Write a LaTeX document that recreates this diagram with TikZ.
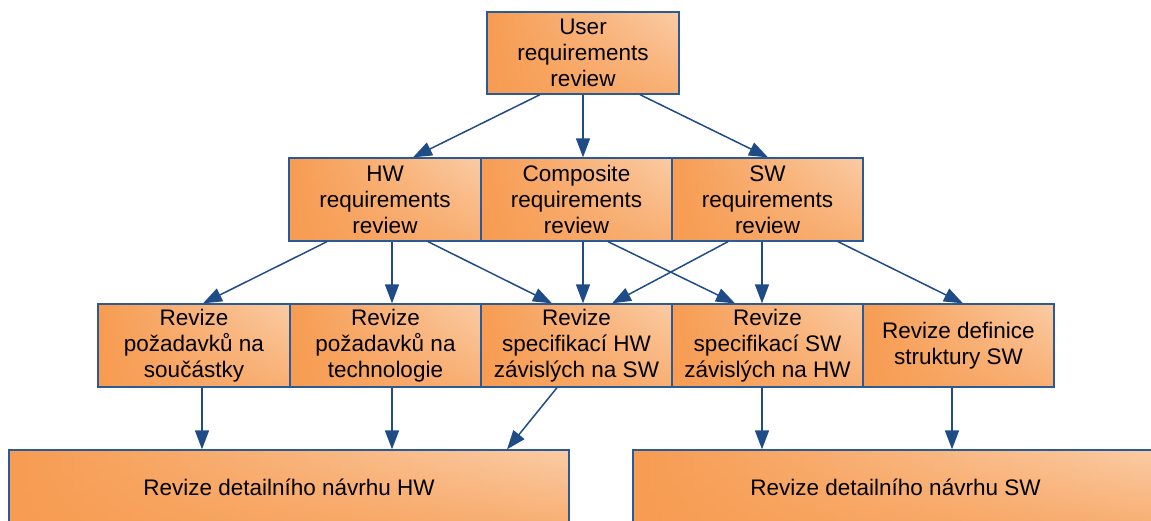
\documentclass[tikz,border=0pt]{standalone}
\usepackage{fontspec}
\setmainfont{Liberation Sans}
\usetikzlibrary{arrows.meta,fadings}
\definecolor{boxdark}{HTML}{F79C52}
\definecolor{boxlight}{HTML}{FBCCA5}
\definecolor{boxedge}{HTML}{2C5A94}
\definecolor{arrcol}{HTML}{1F4C86}
\tikzfading[name=fadeup, top color=transparent!100, bottom color=transparent!0]
\begin{document}
\begin{tikzpicture}[x=1pt,y=-1pt,
  box/.style={draw=boxedge, line width=1.3pt, left color=boxdark, right color=boxlight,
    path picture={\fill[boxdark, path fading=fadeup, fill opacity=0.6]
      (path picture bounding box.south west) rectangle (path picture bounding box.north east);},
    align=center, inner sep=0pt, text=black,
    font=\fontsize{22.5}{26}\selectfont, minimum height=83pt},
  conn/.style={draw=arrcol, line width=1.5pt, -{Triangle[length=19pt,width=14pt]}}]
\useasboundingbox (0,0) rectangle (1151,520);
\clip (0,0) rectangle (1151,520);
% top
\node[box, minimum width=192pt, minimum height=82pt] (top) at (583,53) {User\\requirements\\review};
% row 2
\node[box, minimum width=192pt] (hw) at (385,199.5) {HW\\requirements\\review};
\node[box, minimum width=191pt] (comp) at (576.5,199.5) {Composite\\requirements\\review};
\node[box, minimum width=191pt] (sw) at (767.5,199.5) {SW\\requirements\\review};
% row 3
\node[box, minimum width=192pt] (r1) at (194,345.5) {Revize\\požadavků na\\součástky};
\node[box, minimum width=191pt] (r2) at (385.5,345.5) {Revize\\požadavků na\\technologie};
\node[box, minimum width=191pt] (r3) at (576.5,345.5) {Revize\\specifikací HW\\závislých na SW};
\node[box, minimum width=191pt] (r4) at (767.5,345.5) {Revize\\specifikací SW\\závislých na HW};
\node[box, minimum width=191pt] (r5) at (958.5,345.5) {Revize definice\\struktury SW};
% bottom
\node[box, minimum width=560pt, minimum height=74pt] (bh) at (289,487) {Revize detailního návrhu HW};
\node[box, minimum width=525pt, minimum height=74pt] (bs) at (895.5,487) {Revize detailního návrhu SW};
% connectors
\draw[conn] ([xshift=-43pt]top.south) -- ([xshift=28pt]hw.north);
\draw[conn] (top.south) -- ([xshift=6.5pt]comp.north);
\draw[conn] ([xshift=57pt]top.south) -- ([xshift=0.5pt]sw.north);
\draw[conn] ([xshift=-58pt]hw.south) -- ([xshift=9pt]r1.north);
\draw[conn] ([xshift=7pt]hw.south) -- ([xshift=6.5pt]r2.north);
\draw[conn] ([xshift=43pt]hw.south) -- ([xshift=-24.5pt]r3.north);
\draw[conn] ([xshift=6.5pt]comp.south) -- ([xshift=6.5pt]r3.north);
\draw[conn] ([xshift=31.5pt]comp.south) -- ([xshift=-32.5pt]r4.north);
\draw[conn] ([xshift=-39.5pt]sw.south) -- ([xshift=35.5pt]r3.north);
\draw[conn] ([xshift=-5.5pt]sw.south) -- ([xshift=-5.5pt]r4.north);
\draw[conn] ([xshift=70.5pt]sw.south) -- ([xshift=4.5pt]r5.north);
\draw[conn] ([xshift=8pt]r1.south) -- ([xshift=-87pt]bh.north);
\draw[conn] ([xshift=6.5pt]r2.south) -- ([xshift=103pt]bh.north);
\draw[conn] ([xshift=-19.5pt]r3.south) -- ([xshift=218pt]bh.north);
\draw[conn] ([xshift=-5.5pt]r4.south) -- ([xshift=-133.5pt]bs.north);
\draw[conn] ([xshift=-6.5pt]r5.south) -- ([xshift=56.5pt]bs.north);
\end{tikzpicture}
\end{document}
